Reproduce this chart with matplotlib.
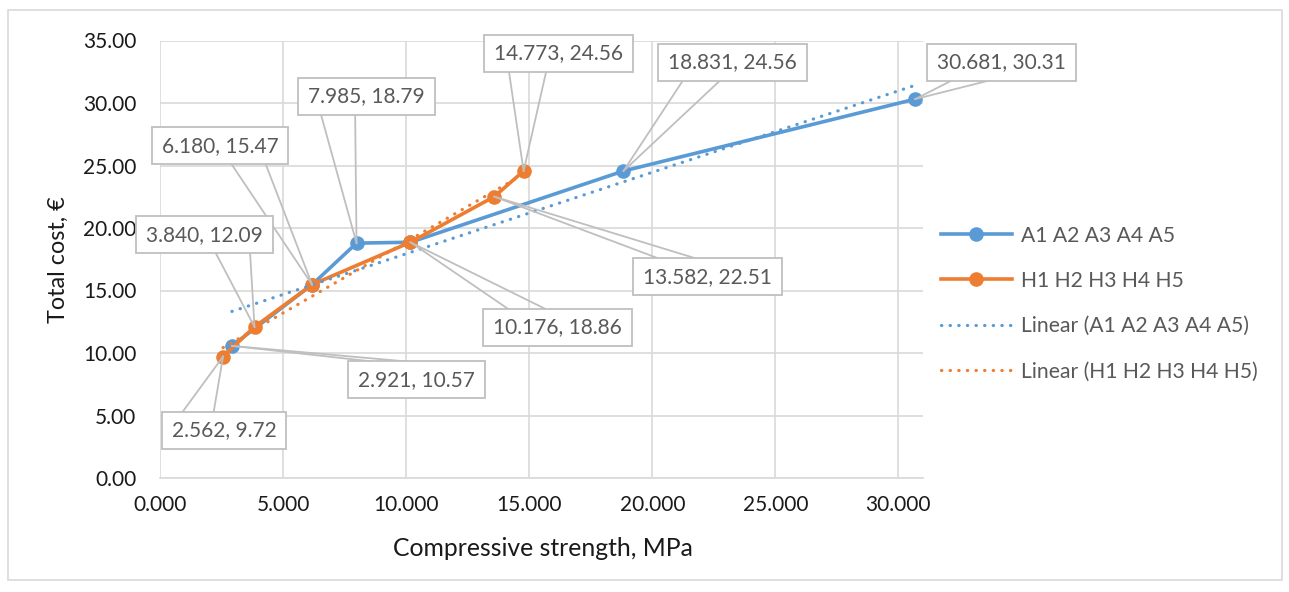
import numpy as np
import matplotlib
matplotlib.use("Agg")
import matplotlib.pyplot as plt
from matplotlib.patches import Rectangle
from matplotlib.lines import Line2D

plt.rcParams["font.family"] = ["Lato", "DejaVu Sans"]

# ---- data -------------------------------------------------------------
series_a_name = "A1 A2 A3 A4 A5"
series_h_name = "H1 H2 H3 H4 H5"
strength_a = [2.921, 6.180, 7.985, 10.176, 18.831, 30.681]
cost_a = [10.57, 15.47, 18.79, 18.86, 24.56, 30.31]
strength_h = [2.562, 3.840, 6.180, 10.176, 13.582, 14.773]
cost_h = [9.72, 12.09, 15.47, 18.86, 22.51, 24.56]
x_ticks = [0, 5, 10, 15, 20, 25, 30]
y_ticks = [0, 5, 10, 15, 20, 25, 30, 35]
x_title = "Compressive strength, MPa"
y_title = "Total cost, €"

# ---- style ------------------------------------------------------------
BLUE = "#5B9BD5"
ORANGE = "#ED7D31"
GRID = "#D9D9D9"
CALLOUT = "#BFBFBF"
LABEL = "#595959"
TICK = "#1A1A1A"
FS = 15

W, H = 1289, 592
fig = plt.figure(figsize=(W / 100, H / 100), dpi=100)
fig.patch.set_facecolor("white")
ax = fig.add_axes([160 / W, 114 / H, 763 / W, 437.5 / H])

ax.set_xlim(0, 31)
ax.set_ylim(0, 35)
ax.set_xticks(x_ticks)
ax.set_yticks(y_ticks)
ax.set_xticklabels([f"{v:.3f}" for v in x_ticks])
ax.set_yticklabels([f"{v:.2f}" for v in y_ticks])
ax.tick_params(length=0, labelsize=FS, colors=TICK)
ax.tick_params(axis="y", pad=17)
ax.tick_params(axis="x", pad=12)
ax.grid(True, color=GRID, lw=1.2, zorder=0)
ax.set_axisbelow(True)
for side in ("top", "right", "left"):
    ax.spines[side].set_visible(False)
ax.spines["bottom"].set_color(GRID)
ax.spines["bottom"].set_linewidth(1.2)

LW = 2.6
MS = 10.5
dot = (0, (0.1, 2.6))

ax.plot(strength_a, cost_a, color=BLUE, lw=LW, marker="o", ms=MS,
        markeredgewidth=0, zorder=3)
ax.plot(strength_h, cost_h, color=ORANGE, lw=LW, marker="o", ms=MS,
        markeredgewidth=0, zorder=4)

# least-squares trend lines over each series' range
for xs, ys, col in ((strength_a, cost_a, BLUE), (strength_h, cost_h, ORANGE)):
    k, b = np.polyfit(xs, ys, 1)
    xx = np.array([min(xs), max(xs)])
    ax.plot(xx, k * xx + b, color=col, lw=2.3, linestyle=dot,
            dash_capstyle="round", zorder=5)

# legend
handles = [
    Line2D([], [], color=BLUE, lw=LW, marker="o", ms=MS, markeredgewidth=0),
    Line2D([], [], color=ORANGE, lw=LW, marker="o", ms=MS, markeredgewidth=0),
    Line2D([], [], color=BLUE, lw=2.3, linestyle=dot, dash_capstyle="round"),
    Line2D([], [], color=ORANGE, lw=2.3, linestyle=dot, dash_capstyle="round"),
]
labels = [series_a_name, series_h_name,
          f"Linear ({series_a_name})", f"Linear ({series_h_name})"]
LEG_FS = 15.2
leg = fig.legend(handles, labels, loc="center left",
                 bbox_to_anchor=(941 / W, 1 - 303.5 / H), frameon=False,
                 fontsize=LEG_FS, handlelength=3.35, handletextpad=0.44,
                 labelspacing=1.2, borderpad=0, borderaxespad=0)
for t in leg.get_texts():
    t.set_color(LABEL)

# axis titles
fig.text(58 / W, 1 - 260 / H, y_title, rotation=90, ha="center",
         va="center", fontsize=16.8, color=TICK)
fig.text(543 / W, 1 - 548 / H, x_title, ha="center", va="center",
         fontsize=17.8, color=TICK)

# chart border
fig.add_artist(Rectangle((8 / W, 12 / H), 1274 / W, 570 / H,
                         transform=fig.transFigure, fill=False,
                         edgecolor=GRID, lw=1.2))

# ---- callout labels: (series, point index, box offset right, box offset up) in px
callouts = [
    ("A", 5, 86, 37),
    ("A", 4, 109, 109),
    ("H", 5, 35, 118),
    ("A", 2, 10, 147),
    ("A", 1, -92, 139),
    ("H", 1, -50, 92),
    ("H", 0, 1, -74),
    ("A", 0, 185, -34),
    ("A", 3, 147, -85),
    ("H", 4, 213, -80),
]
data = {"A": (strength_a, cost_a), "H": (strength_h, cost_h)}

fig.canvas.draw()
renderer = fig.canvas.get_renderer()
BOX_H = 37
PAD_X = 10

for key, idx, dx, dy in callouts:
    xs, ys = data[key]
    xv, yv = xs[idx], ys[idx]
    px, py = ax.transData.transform((xv, yv))
    cx, cy = px + dx, py + dy
    txt = fig.text(cx / W, cy / H, f"{xv:.3f}, {yv:.2f}", ha="center",
                   va="center", fontsize=FS, color=LABEL, zorder=12)
    ext = txt.get_window_extent(renderer)
    bw = ext.width + 2 * PAD_X
    L, R = cx - bw / 2, cx + bw / 2
    B, T = cy - BOX_H / 2, cy + BOX_H / 2
    fig.add_artist(Rectangle((L / W, B / H), bw / W, BOX_H / H,
                             transform=fig.transFigure, facecolor="white",
                             edgecolor=CALLOUT, lw=1.3, zorder=11))
    # wedge base on the box edge facing the point
    if py < B or py > T:
        ey = B if py < B else T
        f1, f2 = (1 / 6, 5 / 12) if px <= cx else (7 / 12, 5 / 6)
        base = [(L + f1 * bw, ey), (L + f2 * bw, ey)]
    else:
        ex = L if px < L else R
        f1, f2 = (1 / 6, 5 / 12) if py >= cy else (7 / 12, 5 / 6)
        base = [(ex, T - f1 * BOX_H), (ex, T - f2 * BOX_H)]
    for bx, by in base:
        fig.add_artist(Line2D([bx / W, px / W], [by / H, py / H],
                              transform=fig.transFigure, color=CALLOUT,
                              lw=1.3, zorder=10))

fig.savefig("out.png", dpi=100)
